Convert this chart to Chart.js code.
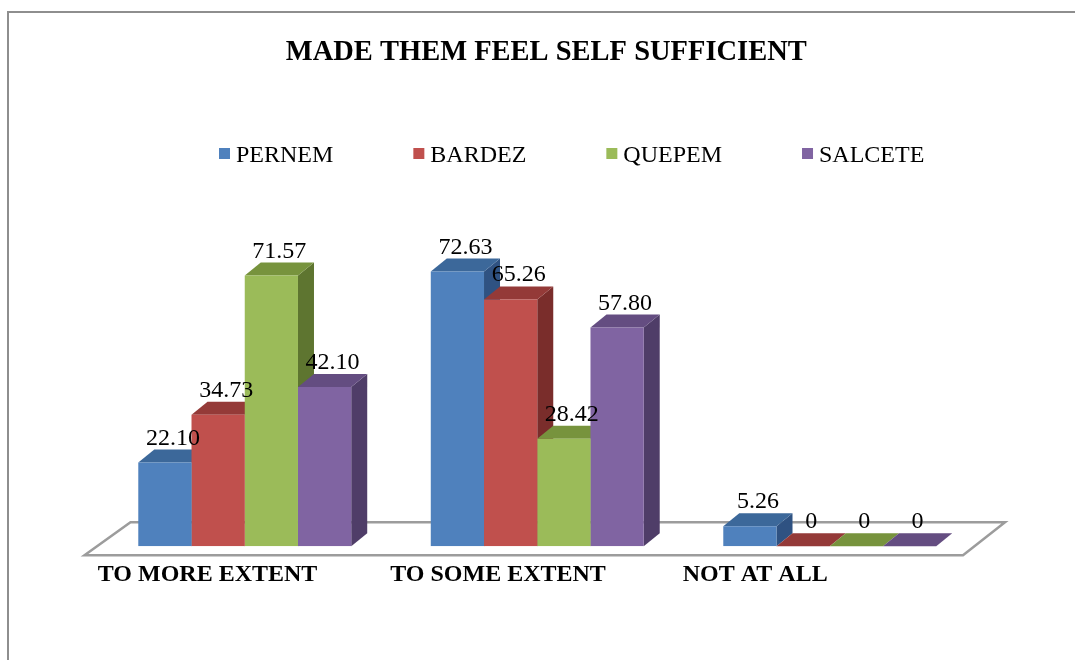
<!DOCTYPE html>
<html>
<head>
<meta charset="utf-8">
<script src="https://cdn.jsdelivr.net/npm/chart.js@4/dist/chart.umd.min.js"></script>
<style>
    html, body { margin: 0; padding: 0; background: #fff; overflow: hidden; }
    #wrap { position: relative; width: 1075px; height: 660px; overflow: hidden; }
    #frame { position: absolute; left: 7px; top: 11px; width: 1300px; height: 900px;
             border-top: 2px solid #8e8e8e; border-left: 2px solid #8e8e8e; }
    canvas { position: absolute; left: 0; top: 0; }
</style>
</head>
<body>
<div id="wrap">
    <div id="frame"></div>
    <canvas id="chart" width="1075" height="660"></canvas>
</div>
<script>
const categories = ['TO MORE EXTENT', 'TO SOME EXTENT', 'NOT AT ALL'];
const seriesNames = ['PERNEM', 'BARDEZ', 'QUEPEM', 'SALCETE'];
const pernem = [22.10, 72.63, 5.26];
const bardez = [34.73, 65.26, 0];
const quepem = [71.57, 28.42, 0];
const salcete = [42.10, 57.80, 0];

const frontColors = ['#4F81BD', '#C0504D', '#9BBB59', '#8064A2'];
const topColors = ['#3C689A', '#943A38', '#77933D', '#644D81'];
const sideColors = ['#2F5282', '#7A2D2B', '#5E7530', '#4F3D68'];

const SERIF = '"Times New Roman", "Liberation Serif", serif';
const DX = 16, DY = 13;

// floor + top/side faces of the bars, drawn before Chart.js paints the fronts
const bars3d = {
    id: 'bars3d',
    beforeDatasetsDraw(chart) {
        const ctx = chart.ctx;
        const area = chart.chartArea;
        const y0 = chart.scales.y.getPixelForValue(0);

        ctx.save();
        ctx.beginPath();
        ctx.moveTo(area.left + 32, y0 - 24);
        ctx.lineTo(area.right + 29, y0 - 24);
        ctx.lineTo(area.right - 13, y0 + 9);
        ctx.lineTo(area.left - 14, y0 + 9);
        ctx.closePath();
        ctx.fillStyle = '#ffffff';
        ctx.fill();
        ctx.lineWidth = 2.5;
        ctx.strokeStyle = '#9c9c9c';
        ctx.stroke();

        categories.forEach((c, i) => {
            chart.data.datasets.forEach((ds, d) => {
                const el = chart.getDatasetMeta(d).data[i];
                const p = el.getProps(['x', 'y', 'base', 'width'], true);
                const l = p.x - p.width / 2, r = p.x + p.width / 2;
                // side
                ctx.beginPath();
                ctx.moveTo(r, p.y);
                ctx.lineTo(r + DX, p.y - DY);
                ctx.lineTo(r + DX, p.base - DY);
                ctx.lineTo(r, p.base);
                ctx.closePath();
                ctx.fillStyle = sideColors[d];
                ctx.fill();
                // top
                ctx.beginPath();
                ctx.moveTo(l, p.y);
                ctx.lineTo(l + DX, p.y - DY);
                ctx.lineTo(r + DX, p.y - DY);
                ctx.lineTo(r, p.y);
                ctx.closePath();
                ctx.fillStyle = topColors[d];
                ctx.fill();
            });
        });
        ctx.restore();
    },
    afterDatasetsDraw(chart) {
        const ctx = chart.ctx;
        ctx.save();
        ctx.font = '24px ' + SERIF;
        ctx.fillStyle = '#000';
        ctx.textAlign = 'center';
        ctx.textBaseline = 'alphabetic';
        chart.data.datasets.forEach((ds, d) => {
            chart.getDatasetMeta(d).data.forEach((el, i) => {
                const v = ds.data[i];
                const txt = v === 0 ? '0' : v.toFixed(2);
                ctx.fillText(txt, el.x + 8, el.y - DY - 5);
            });
        });
        ctx.restore();
    },
    afterDraw(chart) {
        // legend row
        const ctx = chart.ctx;
        ctx.save();
        ctx.font = '24px ' + SERIF;
        ctx.textBaseline = 'alphabetic';
        ctx.textAlign = 'left';
        let x = 219;
        chart.data.datasets.forEach((ds, d) => {
            ctx.fillStyle = frontColors[d];
            ctx.fillRect(x, 148, 11, 11);
            ctx.fillStyle = '#000';
            ctx.fillText(ds.label, x + 17, 162);
            x += 17 + ctx.measureText(ds.label).width + 80;
        });
        ctx.restore();
    }
};

const seriesData = [pernem, bardez, quepem, salcete];

new Chart(document.getElementById('chart'), {
    type: 'bar',
    data: {
        labels: categories,
        datasets: seriesNames.map((name, d) => ({
            label: name,
            data: seriesData[d],
            backgroundColor: frontColors[d],
            borderWidth: 0,
            categoryPercentage: 0.728,
            barPercentage: 1
        }))
    },
    options: {
        responsive: false,
        animation: false,
        layout: { padding: { left: 98.5, right: 81, top: 0, bottom: 57 } },
        plugins: {
            legend: { display: false },
            tooltip: { enabled: false },
            title: {
                display: true,
                text: 'MADE THEM FEEL SELF SUFFICIENT',
                color: '#000',
                font: { family: SERIF, size: 28.5, weight: 'bold' },
                padding: { top: 36, bottom: 97.8 }
            }
        },
        scales: {
            x: {
                grid: { display: false, drawTicks: false },
                border: { display: false },
                ticks: {
                    color: '#000',
                    font: { family: SERIF, size: 24, weight: 'bold' },
                    align: 'start',
                    labelOffset: -147,
                    padding: 14,
                    autoSkip: false,
                    maxRotation: 0,
                    minRotation: 0
                }
            },
            y: {
                position: 'right',
                min: 0,
                max: 100,
                grid: { display: false, drawTicks: false },
                border: { display: false },
                ticks: { display: false },
                afterFit(scale) { scale.width = 18; }
            }
        }
    },
    plugins: [bars3d]
});
</script>
</body>
</html>
